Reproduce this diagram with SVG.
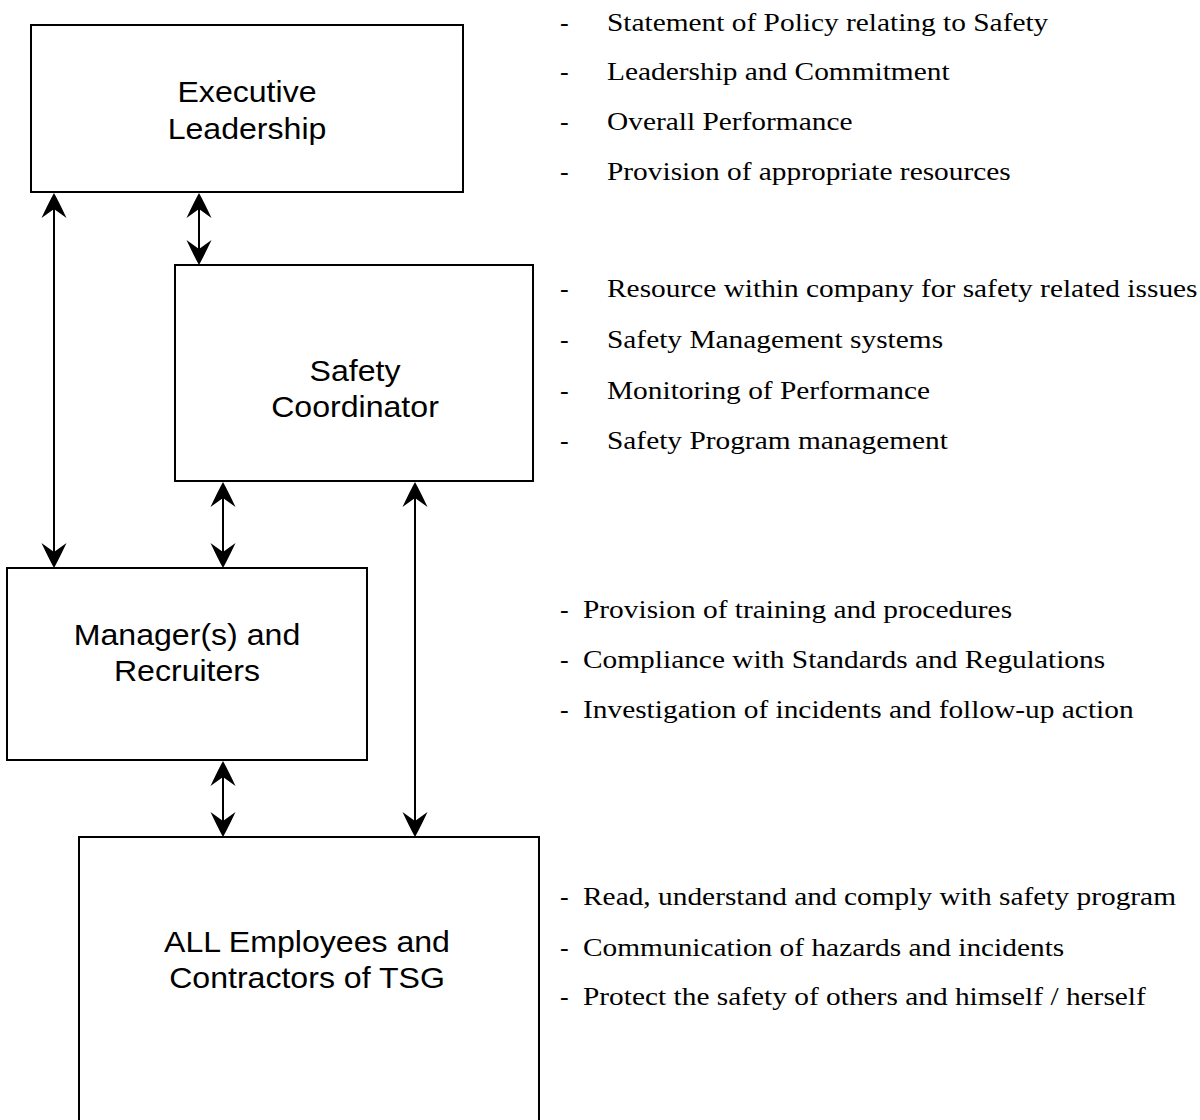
<svg xmlns="http://www.w3.org/2000/svg" width="1200" height="1120" viewBox="0 0 1200 1120">
<style>
.box{fill:#fff;stroke:#000;stroke-width:2}
.lbl{font-family:"Liberation Sans",Arial,sans-serif;font-size:30px;fill:#000;text-anchor:middle}
.item{font-family:"Liberation Serif","Times New Roman",serif;font-size:26px;fill:#000}
.conn{stroke:#000;stroke-width:2;fill:none;marker-start:url(#ah);marker-end:url(#ah)}
</style>
<defs>
<marker id="ah" markerUnits="userSpaceOnUse" markerWidth="30" markerHeight="30" refX="0" refY="0" orient="auto-start-reverse" overflow="visible">
<path d="M16,0 Q7,-5 -9,-12.5 L0,0 L-9,12.5 Q7,5 16,0 Z" fill="#000"/>
</marker>
</defs>
<rect width="1200" height="1120" fill="#fff"/>
<g id="exec">
<rect class="box" x="31" y="25" width="432" height="167"/>
<g transform="translate(247,0) scale(1.07,1)">
<text class="lbl" x="0" y="102">Executive</text>
<text class="lbl" x="0" y="139">Leadership</text>
</g>
</g>
<g id="safety">
<rect class="box" x="175" y="265" width="358" height="216"/>
<g transform="translate(355,0) scale(1.07,1)">
<text class="lbl" x="0" y="381">Safety</text>
<text class="lbl" x="0" y="417">Coordinator</text>
</g>
</g>
<g id="manager">
<rect class="box" x="7" y="568" width="360" height="192"/>
<g transform="translate(187,0) scale(1.07,1)">
<text class="lbl" x="0" y="645">Manager(s) and</text>
<text class="lbl" x="0" y="681">Recruiters</text>
</g>
</g>
<g id="employees">
<rect class="box" x="79" y="837" width="460" height="300"/>
<g transform="translate(307,0) scale(1.07,1)">
<text class="lbl" x="0" y="952">ALL Employees and</text>
<text class="lbl" x="0" y="988">Contractors of TSG</text>
</g>
</g>
<g id="connectors">
<line class="conn" x1="54" y1="209" x2="54" y2="552"/>
<line class="conn" x1="199" y1="209" x2="199" y2="249"/>
<line class="conn" x1="223" y1="498" x2="223" y2="552"/>
<line class="conn" x1="415" y1="498" x2="415" y2="821"/>
<line class="conn" x1="223" y1="777" x2="223" y2="821"/>
</g>
<g id="notes-exec">
<text class="item" x="560" y="31">-</text>
<text class="item" x="560" y="80">-</text>
<text class="item" x="560" y="130">-</text>
<text class="item" x="560" y="180">-</text>
<g transform="translate(607,0) scale(1.13,1)">
<text class="item" x="0" y="31">Statement of Policy relating to Safety</text>
<text class="item" x="0" y="80">Leadership and Commitment</text>
<text class="item" x="0" y="130">Overall Performance</text>
<text class="item" x="0" y="180">Provision of appropriate resources</text>
</g>
</g>
<g id="notes-safety">
<text class="item" x="560" y="297">-</text>
<text class="item" x="560" y="348">-</text>
<text class="item" x="560" y="399">-</text>
<text class="item" x="560" y="449">-</text>
<g transform="translate(607,0) scale(1.13,1)">
<text class="item" x="0" y="297">Resource within company for safety related issues</text>
<text class="item" x="0" y="348">Safety Management systems</text>
<text class="item" x="0" y="399">Monitoring of Performance</text>
<text class="item" x="0" y="449">Safety Program management</text>
</g>
</g>
<g id="notes-manager">
<text class="item" x="560" y="618">-</text>
<text class="item" x="560" y="668">-</text>
<text class="item" x="560" y="718">-</text>
<g transform="translate(583,0) scale(1.13,1)">
<text class="item" x="0" y="618">Provision of training and procedures</text>
<text class="item" x="0" y="668">Compliance with Standards and Regulations</text>
<text class="item" x="0" y="718">Investigation of incidents and follow-up action</text>
</g>
</g>
<g id="notes-employees">
<text class="item" x="560" y="905">-</text>
<text class="item" x="560" y="956">-</text>
<text class="item" x="560" y="1005">-</text>
<g transform="translate(583,0) scale(1.13,1)">
<text class="item" x="0" y="905">Read, understand and comply with safety program</text>
<text class="item" x="0" y="956">Communication of hazards and incidents</text>
<text class="item" x="0" y="1005">Protect the safety of others and himself / herself</text>
</g>
</g>
</svg>
